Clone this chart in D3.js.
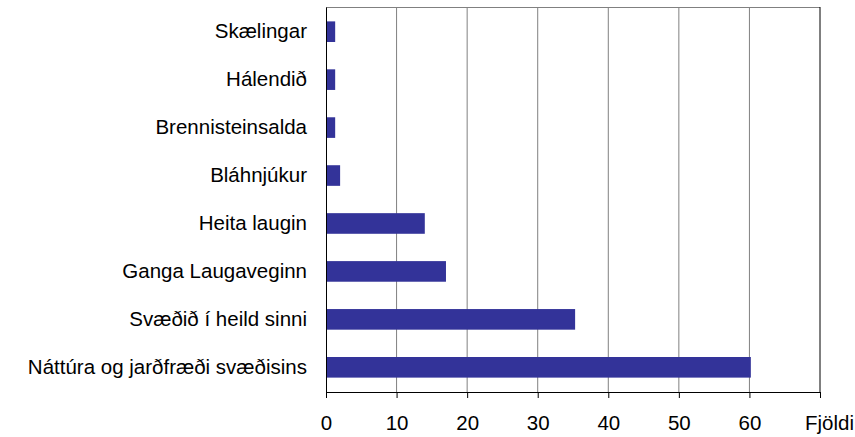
<!DOCTYPE html>
<html>
<head>
<meta charset="utf-8">
<script src="https://cdn.jsdelivr.net/npm/d3@7"></script>
<style>
  body { margin: 0; background: #fff; }
  text { font-family: "Liberation Sans", Arial, sans-serif; }
</style>
</head>
<body>
<svg id="chart"></svg>
<script>
const categories = [
  'Skælingar',
  'Hálendið',
  'Brennisteinsalda',
  'Bláhnjúkur',
  'Heita laugin',
  'Ganga Laugaveginn',
  'Svæðið í heild sinni',
  'Náttúra og jarðfræði svæðisins'
];
const values = [1.3, 1.3, 1.3, 2, 14, 17, 35.3, 60.2];
const xTicks = [0, 10, 20, 30, 40, 50, 60, 70];
const xTickLabels = ['0', '10', '20', '30', '40', '50', '60', ''];
const xTitle = 'Fjöldi';

const width = 855;
const height = 437;
const margin = { top: 7, right: 35, bottom: 45, left: 326 };
const fontSize = '20.5px';

const svg = d3.select('#chart').attr('width', width).attr('height', height);

// skalar
const x = d3.scaleLinear()
  .domain([0, 70])
  .range([margin.left, width - margin.right]);

const y = d3.scaleBand()
  .domain(categories)
  .range([margin.top, height - margin.bottom])
  .paddingInner(0.57)
  .paddingOuter(0.3);

// lóðréttar hnitalínur
svg.append('g')
  .selectAll('line')
  .data(xTicks.filter(d => d > 0 && d < 70))
  .enter()
  .append('line')
  .attr('x1', d => x(d))
  .attr('x2', d => x(d))
  .attr('y1', margin.top)
  .attr('y2', height - margin.bottom)
  .attr('stroke', '#808080')
  .attr('stroke-width', 1);

// efri rammi
svg.append('line')
  .attr('x1', x(0)).attr('x2', x(70))
  .attr('y1', margin.top + 0.5).attr('y2', margin.top + 0.5)
  .attr('stroke', '#808080');

// hægri rammi
svg.append('line')
  .attr('x1', x(70)).attr('x2', x(70))
  .attr('y1', margin.top).attr('y2', height - margin.bottom)
  .attr('stroke', '#000');

// súlur
svg.append('g')
  .selectAll('rect')
  .data(values)
  .enter()
  .append('rect')
  .attr('x', x(0))
  .attr('y', (_, i) => y(categories[i]))
  .attr('width', d => x(d) - x(0))
  .attr('height', y.bandwidth())
  .attr('fill', '#333399');

// x-ás
const xAxis = svg.append('g')
  .attr('transform', `translate(0,${height - margin.bottom})`)
  .call(d3.axisBottom(x)
    .tickValues(xTicks)
    .tickFormat((_, i) => xTickLabels[i])
    .tickSize(6)
    .tickPadding(17)
    .tickSizeOuter(0));
xAxis.select('.domain').attr('stroke', '#000');
xAxis.selectAll('.tick line').attr('stroke', '#000');
xAxis.selectAll('.tick text')
  .attr('font-size', fontSize)
  .attr('fill', '#000')
  .style('font-family', '"Liberation Sans", Arial, sans-serif');

// y-ás
const yAxis = svg.append('g')
  .attr('transform', `translate(${margin.left},0)`)
  .call(d3.axisLeft(y).tickSize(0).tickPadding(19));
yAxis.select('.domain').attr('stroke', '#000');
yAxis.selectAll('.tick text')
  .attr('font-size', fontSize)
  .attr('fill', '#000')
  .style('font-family', '"Liberation Sans", Arial, sans-serif');

// ásheiti
svg.append('text')
  .attr('x', 805)
  .attr('y', 430)
  .attr('text-anchor', 'start')
  .attr('font-size', fontSize)
  .attr('fill', '#000')
  .text(xTitle);
</script>
</body>
</html>
